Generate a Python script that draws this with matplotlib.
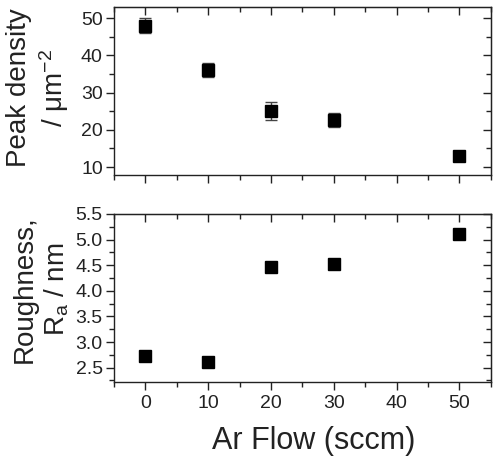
import matplotlib
matplotlib.use("Agg")
import matplotlib.pyplot as plt
from matplotlib.ticker import MultipleLocator, FormatStrFormatter

plt.rcParams["font.family"] = ["Liberation Sans", "DejaVu Sans"]
plt.rcParams["mathtext.fontset"] = "custom"
plt.rcParams["mathtext.rm"] = "Liberation Sans"
plt.rcParams["mathtext.it"] = "Liberation Sans:italic"

ar_flow = [0, 10, 20, 30, 50]
peak_density = [48.0, 36.0, 25.0, 22.7, 12.9]
peak_err = [2.0, 1.9, 2.4, 1.9, 0.6]
roughness = [2.72, 2.62, 4.47, 4.53, 5.11]
rough_err = [0.05, 0.03, 0.04, 0.04, 0.08]

INK = "#222222"

fig = plt.figure(figsize=(5.04, 4.58), dpi=100)
ax1 = fig.add_axes([0.226, 0.618, 0.748, 0.367])
ax2 = fig.add_axes([0.226, 0.167, 0.748, 0.366])


def style(ax):
    ax.set_xlim(-5, 55)
    ax.xaxis.set_major_locator(MultipleLocator(10))
    ax.xaxis.set_minor_locator(MultipleLocator(5))
    ax.tick_params(which="both", direction="out", width=1, color=INK,
                   labelsize=14, labelcolor=INK, pad=2)
    ax.tick_params(which="major", length=6)
    ax.tick_params(which="minor", length=3.5)
    # top and right: ticks pointing inward, no labels
    sec = ax.secondary_xaxis("top")
    sec.xaxis.set_major_locator(MultipleLocator(10))
    sec.xaxis.set_minor_locator(MultipleLocator(5))
    sec2 = ax.secondary_yaxis("right")
    sec2.yaxis.set_major_locator(ax.yaxis.get_major_locator())
    sec2.yaxis.set_minor_locator(ax.yaxis.get_minor_locator())
    for s in (sec, sec2):
        s.tick_params(which="both", direction="in", width=1, color=INK,
                      labeltop=False, labelright=False)
        s.tick_params(which="major", length=6)
        s.tick_params(which="minor", length=3.5)
    for sp in ax.spines.values():
        sp.set_linewidth(1)
        sp.set_color(INK)


ax1.errorbar(ar_flow, peak_density, yerr=peak_err, fmt="s", color="black",
             markersize=8.5, capsize=4.4, elinewidth=1, capthick=1, ecolor="#444444")
ax1.set_ylim(7.9, 53)
ax1.yaxis.set_major_locator(MultipleLocator(10))
ax1.yaxis.set_minor_locator(MultipleLocator(5))
style(ax1)
ax1.tick_params(axis="x", labelbottom=False)
ax1.set_ylabel("Peak density\n/ \u03bcm$^{-2}$", fontsize=20, linespacing=1.2, color=INK)
ax1.yaxis.set_label_coords(-0.115, 0.52)

ax2.errorbar(ar_flow, roughness, yerr=rough_err, fmt="s", color="black",
             markersize=8.5, capsize=4.4, elinewidth=1, capthick=1, ecolor="#444444")
ax2.set_ylim(2.23, 5.5)
ax2.yaxis.set_major_locator(MultipleLocator(0.5))
ax2.yaxis.set_minor_locator(MultipleLocator(0.25))
ax2.yaxis.set_major_formatter(FormatStrFormatter("%.1f"))
style(ax2)
ax2.tick_params(axis="x", pad=4)
ax2.set_ylabel("Roughness,\nR$_\\mathrm{a}$ / nm", fontsize=20, linespacing=1.2, color=INK)
ax2.yaxis.set_label_coords(-0.115, 0.55)
ax2.set_xlabel("Ar Flow (sccm)", fontsize=22, color=INK)
ax2.xaxis.set_label_coords(0.53, -0.265)

fig.savefig("out.png", dpi=100)
